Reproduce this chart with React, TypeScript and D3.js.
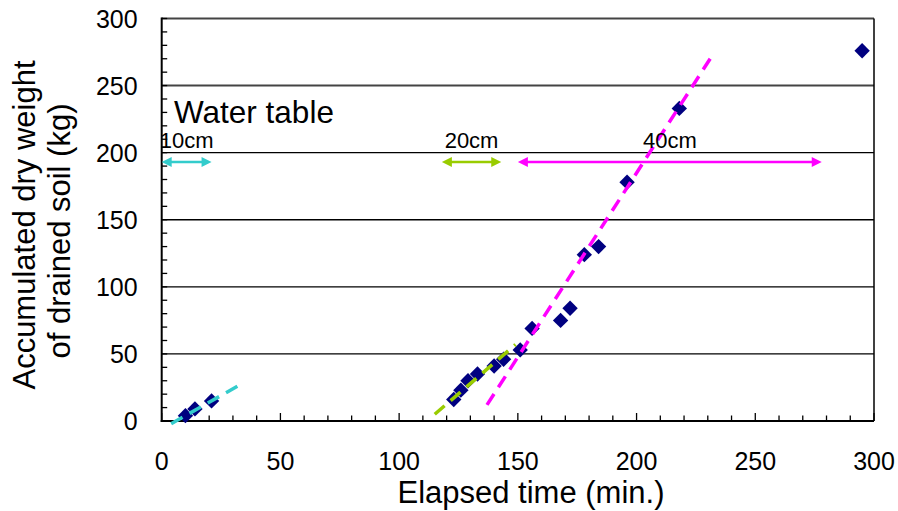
import * as d3 from 'd3';
import React from 'react';

// measured points
const timeMin = [10, 14, 21, 123, 126, 129, 133, 140, 144, 151, 156, 168, 172, 178, 184, 196, 218, 295];
const drainedKg = [4, 9, 15, 16, 23, 30, 35, 41, 46, 53, 69, 75, 84, 124, 130, 178, 233, 276];

// water table stages (trend lines + arrows)
const stageLabels = ['10cm', '20cm', '40cm'];
const stageColors = ['#33CCCC', '#99CC00', '#FF00FF'];
const trendX0 = [4, 115, 137];
const trendY0 = [-2, 5, 12];
const trendX1 = [34, 149, 231];
const trendY1 = [28, 57, 270];
const arrowStart = [0, 118, 150];
const arrowEnd = [21, 143, 278];
const arrowLevel = 193;

const xTicks = [0, 50, 100, 150, 200, 250, 300];
const yTicks = [0, 50, 100, 150, 200, 250, 300];

const FONT = '"Liberation Sans", Arial, sans-serif';

export default function App() {
  const width = 898;
  const height = 511;
  const margin = { top: 18.5, right: 24, bottom: 90, left: 161.7 };

  const xScale = d3.scaleLinear().domain([0, 300]).range([margin.left, width - margin.right]);
  const yScale = d3.scaleLinear().domain([0, 300]).range([height - margin.bottom, margin.top]);

  const x0 = xScale(0);
  const x300 = xScale(300);
  const y0 = yScale(0);
  const y300 = yScale(300);

  const minor = d3.range(0, 301, 10);
  const diamond = d3.symbol().type(d3.symbolSquare).size(118)();

  const arrowHead = (x: number, y: number, dir: number, color: string) => {
    const len = 10;
    const hw = 5;
    return (
      <path
        d={`M${x},${y} L${x - dir * len},${y - hw} L${x - dir * len},${y + hw} Z`}
        fill={color}
      />
    );
  };

  return (
    <svg
      width={width}
      height={height}
      style={{ position: 'absolute', left: 0, top: 0, background: '#fff' }}
    >
      {/* grid lines */}
      {yTicks.slice(1).map((t) => (
        <line
          key={'g' + t}
          x1={x0}
          x2={x300}
          y1={yScale(t)}
          y2={yScale(t)}
          stroke={t >= 250 ? '#444' : '#000'}
          strokeWidth={t >= 250 ? 2 : 1.4}
        />
      ))}
      {/* frame */}
      <line x1={x300} x2={x300} y1={y300} y2={y0} stroke="#000" strokeWidth={1.5} />
      <line x1={x0} x2={x0} y1={y300 - 1} y2={y0 + 1} stroke="#000" strokeWidth={2} />
      <line x1={x0 - 1} x2={x300} y1={y0} y2={y0} stroke="#000" strokeWidth={2} />

      {/* minor ticks */}
      {minor.map((t) => (
        <line
          key={'yt' + t}
          x1={x0}
          x2={x0 + 5.5}
          y1={yScale(t)}
          y2={yScale(t)}
          stroke="#000"
          strokeWidth={1.3}
        />
      ))}
      {minor.map((t) => (
        <line
          key={'xt' + t}
          x1={xScale(t)}
          x2={xScale(t)}
          y1={y0}
          y2={y0 - (t % 50 === 0 ? 8 : 5.5)}
          stroke="#000"
          strokeWidth={1.3}
        />
      ))}

      {/* tick labels */}
      {yTicks.map((t) => (
        <text
          key={'yl' + t}
          x={x0 - 24}
          y={yScale(t)}
          dy="0.36em"
          textAnchor="end"
          fontFamily={FONT}
          fontSize={25}
        >
          {t}
        </text>
      ))}
      {xTicks.map((t) => (
        <text
          key={'xl' + t}
          x={xScale(t)}
          y={y0 + 49}
          textAnchor="middle"
          fontFamily={FONT}
          fontSize={25}
        >
          {t}
        </text>
      ))}

      {/* axis titles */}
      <text
        x={531}
        y={503}
        textAnchor="middle"
        fontFamily={FONT}
        fontSize={31}
      >
        Elapsed time (min.)
      </text>
      <text
        transform="translate(35,225) rotate(-90)"
        textAnchor="middle"
        fontFamily={FONT}
        fontSize={31}
      >
        Accumulated dry weight
      </text>
      <text
        transform="translate(70,231) rotate(-90)"
        textAnchor="middle"
        fontFamily={FONT}
        fontSize={31}
      >
        of drained soil (kg)
      </text>

      {/* data points */}
      {timeMin.map((t, i) => (
        <path
          key={'p' + i}
          d={diamond}
          transform={`translate(${xScale(t)},${yScale(drainedKg[i])}) rotate(45)`}
          fill="#000080"
        />
      ))}

      {/* trend lines, drawn over the points */}
      {stageLabels.map((s, i) => (
        <line
          key={'tr' + s}
          x1={xScale(trendX0[i])}
          y1={yScale(trendY0[i])}
          x2={xScale(trendX1[i])}
          y2={yScale(trendY1[i])}
          stroke={stageColors[i]}
          strokeWidth={3.5}
          strokeDasharray="13,8"
        />
      ))}

      {/* water table arrows */}
      {stageLabels.map((s, i) => {
        const xa = xScale(arrowStart[i]);
        const xb = xScale(arrowEnd[i]);
        const ya = yScale(arrowLevel);
        return (
          <g key={'ar' + s}>
            <line x1={xa + 6} x2={xb - 6} y1={ya} y2={ya} stroke={stageColors[i]} strokeWidth={2.5} />
            {arrowHead(xa, ya, -1, stageColors[i])}
            {arrowHead(xb, ya, 1, stageColors[i])}
            <text
              x={(xa + xb) / 2}
              y={ya - 14}
              textAnchor="middle"
              fontFamily={FONT}
              fontSize={22}
            >
              {s}
            </text>
          </g>
        );
      })}

      <text x={174} y={123} fontFamily={FONT} fontSize={31.5}>
        Water table
      </text>
    </svg>
  );
}
